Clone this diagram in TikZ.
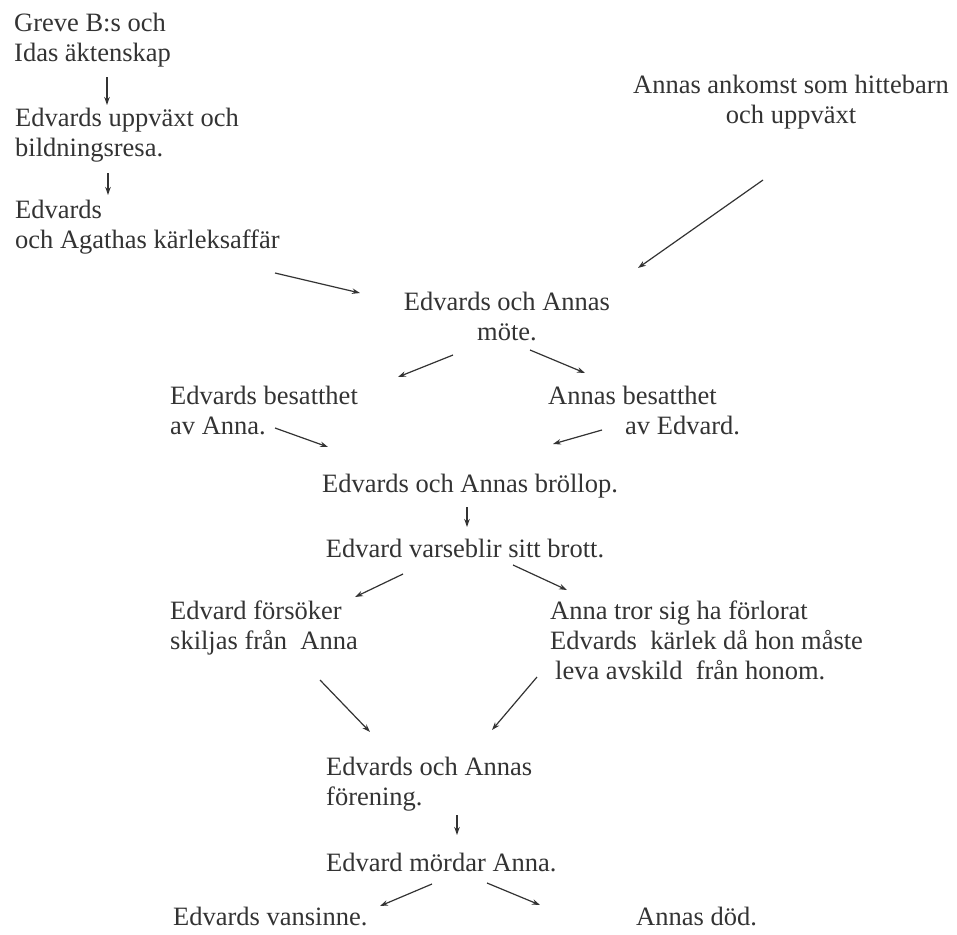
\documentclass[tikz,border=0pt]{standalone}
\usepackage{fontspec}
\setmainfont{Liberation Serif}
\usetikzlibrary{arrows.meta,positioning}
\definecolor{inkgray}{gray}{0.2}

\tikzset{
	txt/.style={inner sep=0pt, text=inkgray, align=left, anchor=west},
	arr/.style={-{Stealth[length=8pt, width=5.5pt]}, line width=1.2pt, draw=inkgray}
}

\begin{document}
\begin{tikzpicture}[x=1pt, y=-1pt, font=\fontsize{26.5}{30}\selectfont]

	\useasboundingbox (0,0) rectangle (957,934);

	\node (greve) [txt] at (14,40) {Greve B:s och\\Idas äktenskap};
	\node (upp) [txt] at (15,135) {Edvards uppväxt och\\bildningsresa.};
	\node (aga) [txt] at (15,227) {Edvards\\och Agathas kärleksaffär};
	\node (ank) [txt, align=center, anchor=center] at (791,102) {Annas ankomst som hittebarn\\och uppväxt};
	\node (mote) [txt, align=center, anchor=center] at (507,316) {Edvards och Annas\\möte.};
	\node (eb) [txt] at (170,410) {Edvards besatthet\\av Anna.};
	\node (ab) [txt] at (548,410) {Annas besatthet\\\hspace*{77pt}av Edvard.};
	\node (brl) [txt, anchor=center] at (470,486) {Edvards och Annas bröllop.};
	\node (vb) [txt, anchor=center] at (465,548) {Edvard varseblir sitt brott.};
	\node (fs) [txt] at (170,628) {Edvard försöker\\skiljas från\ \ Anna};
	\node (tr) [txt] at (550,640) {Anna tror sig ha förlorat\\Edvards\ \ kärlek då hon måste\\\hspace*{5pt}leva avskild\ \ från honom.};
	\node (for) [txt] at (326,784) {Edvards och Annas\\förening.};
	\node (mrd) [txt] at (326,862) {Edvard mördar Anna.};
	\node (van) [txt] at (173,916) {Edvards vansinne.};
	\node (dod) [txt] at (636,916) {Annas död.};

	\draw[arr] ([shift={(93,37)}]greve.west) -- ([shift={(92,-30)}]upp.west);
	\draw[arr] ([shift={(93,38)}]upp.west) -- ([shift={(93,-32)}]aga.west);
	\draw[arr] ([shift={(260,46)}]aga.west) -- ([shift={(-147,-23)}]mote.center);
	\draw[arr] ([shift={(-28,78)}]ank.center) -- ([shift={(131,-48)}]mote.center);
	\draw[arr] ([shift={(-54,39)}]mote.center) -- ([shift={(228,-33)}]eb.west);
	\draw[arr] ([shift={(23,34)}]mote.center) -- ([shift={(37,-37)}]ab.west);
	\draw[arr] ([shift={(105,18)}]eb.west) -- ([shift={(-142,-39)}]brl.center);
	\draw[arr] ([shift={(54,20)}]ab.west) -- ([shift={(83,-42)}]brl.center);
	\draw[arr] ([shift={(-3,21)}]brl.center) -- ([shift={(2,-21)}]vb.center);
	\draw[arr] ([shift={(-62,26)}]vb.center) -- ([shift={(185,-31)}]fs.west);
	\draw[arr] ([shift={(48,17)}]vb.center) -- ([shift={(17,-50)}]tr.west);
	\draw[arr] ([shift={(150,52)}]fs.west) -- ([shift={(44,-52)}]for.west);
	\draw[arr] ([shift={(-13,37)}]tr.west) -- ([shift={(166,-54)}]for.west);
	\draw[arr] ([shift={(131,31)}]for.west) -- ([shift={(131,-27)}]mrd.west);
	\draw[arr] ([shift={(106,22)}]mrd.west) -- ([shift={(207,-10)}]van.west);
	\draw[arr] ([shift={(161,21)}]mrd.west) -- ([shift={(-96,-11)}]dod.west);

\end{tikzpicture}
\end{document}
